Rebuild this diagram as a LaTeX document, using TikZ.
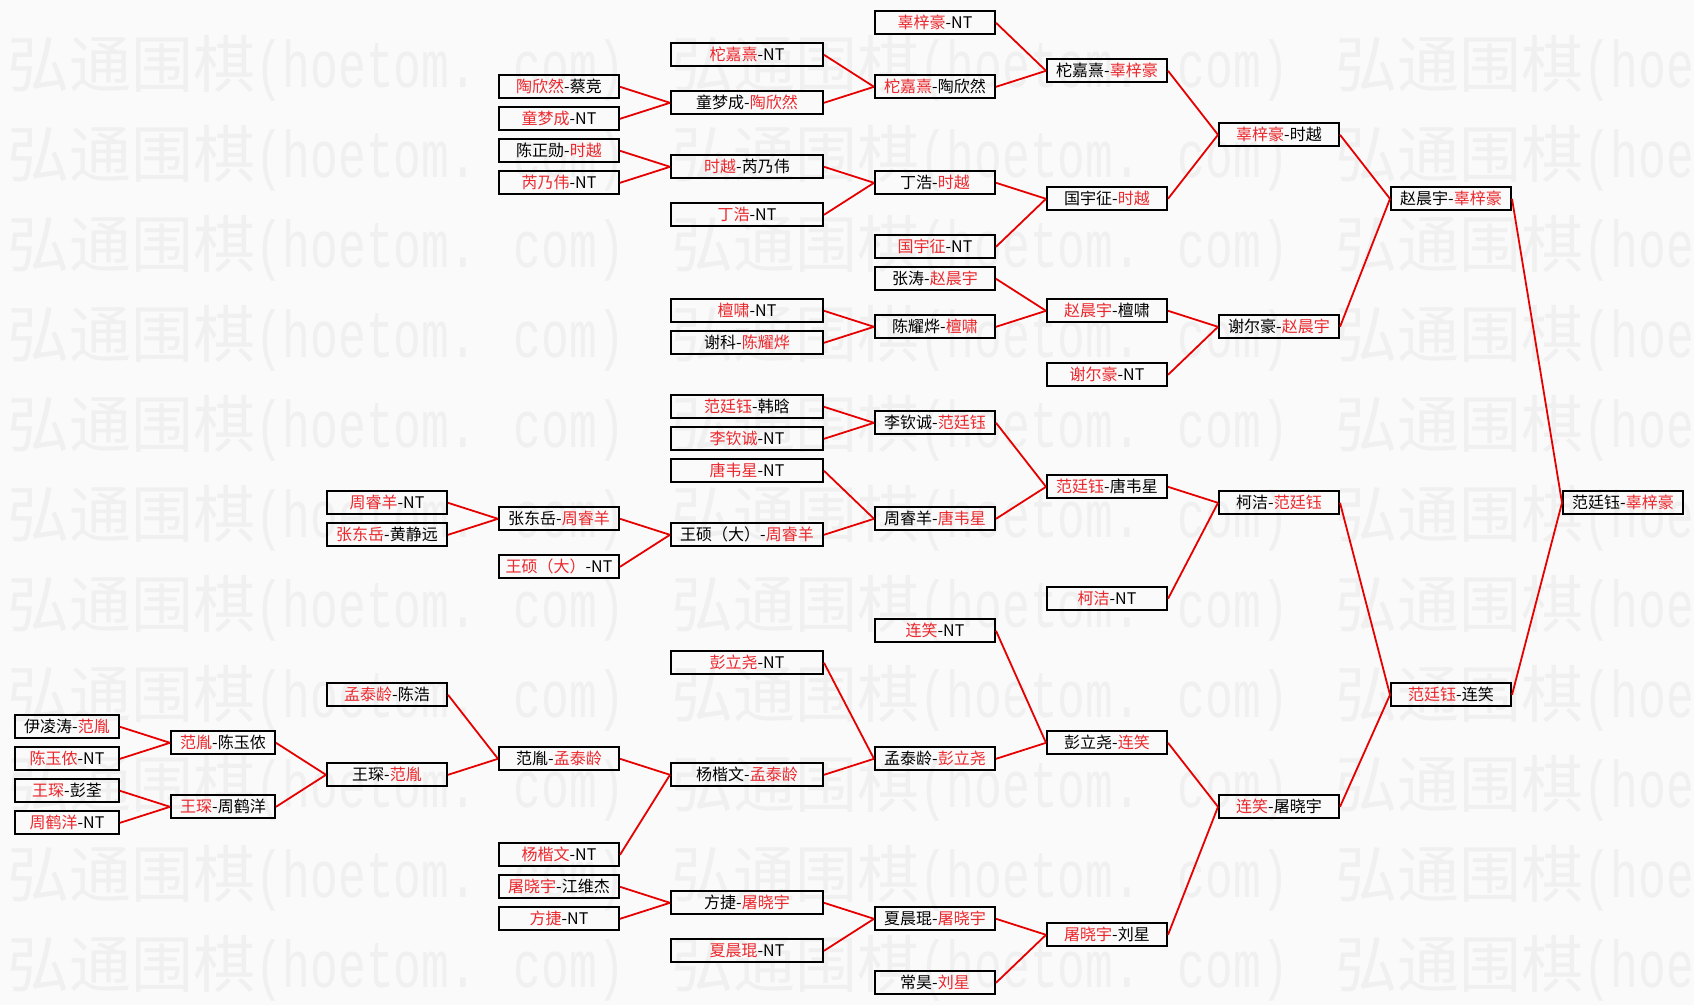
\documentclass[tikz,border=0pt]{standalone}
\usepackage{fontspec}
\setmainfont{Noto Sans CJK SC}
\newfontfamily\wmmono[FakeStretch=0.7]{Liberation Mono}
\usepackage{tikz}
\usetikzlibrary{positioning}
\definecolor{winred}{RGB}{235,40,45}
\definecolor{linered}{RGB}{230,0,0}
\definecolor{paper}{RGB}{250,250,250}
\definecolor{wmgray}{RGB}{240,240,240}
\newcommand{\wn}[1]{\textcolor{winred}{#1}}

\begin{document}
\begin{tikzpicture}[x=1pt,y=1pt,node distance=50pt,
  game/.style={draw, line width=2pt, inner sep=0pt, minimum width=120pt, minimum height=23pt, font=\fontsize{16pt}{16pt}\selectfont},
  gamewide/.style={game, minimum width=152pt},
  gameshort/.style={game, minimum width=104pt},
  branch/.style={linered, line width=1.8pt},
  watermark/.style={anchor=west, inner sep=0pt, text=wmgray}] %
    \path[use as bounding box, fill=paper] (0,0) rectangle (1694,-1005);
    % watermark
    \begin{scope}
      \clip (0,0) rectangle (1694,-1005);
      \foreach \j in {0,1,2} \foreach \k in {0,...,10}
        \node[watermark] (wm\j\k) at (7+664*\j,-68-90*\k) {{\fontsize{62pt}{62pt}\selectfont 弘通围棋}{\wmmono\fontsize{66pt}{66pt}\selectfont (hoetom. com)}};
    \end{scope}
    % top quarter
    \node[game] (tc) at (559,-86.8) {\wn{陶欣然}-蔡竞} ; %
    \node[game, below=7pt of tc] (tn) {\wn{童梦成}-NT} ;
    \node[game, below=7pt of tn] (ct) {陈正勋-\wn{时越}} ;
    \node[game, below=7pt of ct] (rn) {\wn{芮乃伟}-NT} ;
    \node[gamewide, right=of tc, yshift=-16pt] (tt) {童梦成-\wn{陶欣然}} ;
    \node[gamewide, right=of tc, yshift=32pt] (tjn) {\wn{柁嘉熹}-NT} ;
    \node[gamewide, right=of ct, yshift=-16pt] (sr) {\wn{时越}-芮乃伟} ;
    \node[gamewide, right=of rn, yshift=-32pt] (dn) {\wn{丁浩}-NT} ;
    \node[game, right=of tjn, yshift=32pt] (gn) {\wn{辜梓豪}-NT} ;
    \node[game, right=of tt, yshift=16pt] (tj) {\wn{柁嘉熹}-陶欣然} ;
    \node[game, right=of sr, yshift=-16pt] (ds) {丁浩-\wn{时越}} ;
    \node[game, right=of dn, yshift=-32pt] (gyn) {\wn{国宇征}-NT} ;
    \node[game, below=7pt of gyn] (zt) {张涛-\wn{赵晨宇}} ;
    \node[game, right=of tj, yshift=16pt] (tg) {柁嘉熹-\wn{辜梓豪}} ;
    \node[game, right=of ds, yshift=-16pt] (gs) {国宇征-\wn{时越}} ;
    \node[game, right=of tg, yshift=-64pt] (gsy) {\wn{辜梓豪}-时越} ;
    \node[game, below=23pt of zt] (cy) {陈耀烨-\wn{檀啸}} ;
    \node[gamewide, left=of cy, yshift=16pt] (txn) {\wn{檀啸}-NT} ;
    \node[gamewide, left=of cy, yshift=-16pt] (xk) {谢科-\wn{陈耀烨}} ;
    \node[game, right=of zt, yshift=-32pt] (zx) {\wn{赵晨宇}-檀啸} ;
    \node[game, right=of cy, yshift=-48pt] (xen) {\wn{谢尔豪}-NT} ;
    \node[game, right=of zx, yshift=-16pt] (xz) {谢尔豪-\wn{赵晨宇}} ;
    \node[game, right=of gsy, yshift=-64pt] (zg) {赵晨宇-\wn{辜梓豪}} ;
    % second quarter
    \node[gamewide, below=39pt of xk] (fh) {\wn{范廷钰}-韩晗} ;
    \node[gamewide, below=7pt of fh] (lqn) {\wn{李钦诚}-NT} ;
    \node[gamewide, below=7pt of lqn] (twn) {\wn{唐韦星}-NT} ;
    \node[gamewide, below=39pt of twn] (ws) {王硕（大）-\wn{周睿羊}} ;
    \node[game, right=of fh, yshift=-16pt] (lf) {李钦诚-\wn{范廷钰}} ;
    \node[game, left=of ws, yshift=16pt] (zz) {张东岳-\wn{周睿羊}} ;
    \node[game, left=of ws, yshift=-32pt] (wsn) {\wn{王硕（大）}-NT} ;
    \node[game, left=of zz, yshift=16pt] (zrn) {\wn{周睿羊}-NT} ;
    \node[game, left=of zz, yshift=-16pt] (zh) {\wn{张东岳}-黄静远} ;
    \node[game, right=of ws, yshift=16pt] (zw) {周睿羊-\wn{唐韦星}} ;
    \node[game, right=of lf, yshift=-64pt] (ft) {\wn{范廷钰}-唐韦星} ;
    \node[game, right=of zw, yshift=-80pt] (kjn) {\wn{柯洁}-NT} ;
    \node[game, right=of ft, yshift=-16pt] (kf) {柯洁-\wn{范廷钰}} ;
    % bottom half
    \node[game, below=87pt of zw] (lxn) {\wn{连笑}-NT} ;
    \node[gamewide, left=of lxn, yshift=-32pt] (pln) {\wn{彭立尧}-NT} ;
    \node[gamewide, below=87pt of pln] (ym) {杨楷文-\wn{孟泰龄}} ;
    \node[game, left=of ym, yshift=16pt] (fm) {范胤-\wn{孟泰龄}} ;
    \node[game, left=of ym, yshift=-80pt] (ykn) {\wn{杨楷文}-NT} ;
    \node[game, left=of fm, yshift=-16pt] (wf) {王琛-\wn{范胤}} ;
    \node[game, left=of fm, yshift=64pt] (mc) {\wn{孟泰龄}-陈浩} ;
    \node[gameshort, left=of wf, yshift=32pt] (fc) {\wn{范胤}-陈玉侬} ;
    \node[gameshort, left=of wf, yshift=-32pt] (wz) {\wn{王琛}-周鹤洋} ;
    \node[gameshort, left=of fc, yshift=16pt] (yf) {伊凌涛-\wn{范胤}} ;
    \node[gameshort, left=of fc, yshift=-16pt] (cyn) {\wn{陈玉侬}-NT} ;
    \node[gameshort, left=of wz, yshift=16pt] (wp) {\wn{王琛}-彭荃} ;
    \node[gameshort, left=of wz, yshift=-16pt] (zhn) {\wn{周鹤洋}-NT} ;
    \node[game, right=of ym, yshift=16pt] (mp) {孟泰龄-\wn{彭立尧}} ;
    \node[game, right=of mp, yshift=16pt] (pl) {彭立尧-\wn{连笑}} ;
    \node[game, below=7pt of ykn] (tjj) {\wn{屠晓宇}-江维杰} ;
    \node[game, below=7pt of tjj] (fjn) {\wn{方捷}-NT} ;
    \node[gamewide, right=of tjj, yshift=-16pt] (fjt) {方捷-\wn{屠晓宇}} ;
    \node[gamewide, right=of fjn, yshift=-32pt] (xcn) {\wn{夏晨琨}-NT} ;
    \node[game, right=of fjt, yshift=-16pt] (xt) {夏晨琨-\wn{屠晓宇}} ;
    \node[game, right=of xcn, yshift=-32pt] (ch) {常昊-\wn{刘星}} ;
    \node[game, right=of xt, yshift=-16pt] (tl) {\wn{屠晓宇}-刘星} ;
    \node[game, right=of pl, yshift=-64pt] (lt) {\wn{连笑}-屠晓宇} ;
    \node[game, right=of kf, yshift=-192pt] (fl) {\wn{范廷钰}-连笑} ;
    \node[game, right=of zg, yshift=-304pt] (fg) {范廷钰-\wn{辜梓豪}} ;
    % top quarter
    \draw[branch] (tc.east)--(tt.west) ; %
    \draw[branch] (tn.east)--(tt.west) ;
    \draw[branch] (ct.east)--(sr.west) ;
    \draw[branch] (rn.east)--(sr.west) ;
    \draw[branch] (tjn.east)--(tj.west) ;
    \draw[branch] (tt.east)--(tj.west) ;
    \draw[branch] (sr.east)--(ds.west) ;
    \draw[branch] (dn.east)--(ds.west) ;
    \draw[branch] (gn.east)--(tg.west) ;
    \draw[branch] (tj.east)--(tg.west) ;
    \draw[branch] (ds.east)--(gs.west) ;
    \draw[branch] (gyn.east)--(gs.west) ;
    \draw[branch] (tg.east)--(gsy.west) ;
    \draw[branch] (gs.east)--(gsy.west) ;
    \draw[branch] (txn.east)--(cy.west) ;
    \draw[branch] (xk.east)--(cy.west) ;
    \draw[branch] (zt.east)--(zx.west) ;
    \draw[branch] (cy.east)--(zx.west) ;
    \draw[branch] (zx.east)--(xz.west) ;
    \draw[branch] (xen.east)--(xz.west) ;
    \draw[branch] (gsy.east)--(zg.west) ;
    \draw[branch] (xz.east)--(zg.west) ;
    \draw[branch] (zg.east)--(fg.west) ;
    \draw[branch] (fl.east)--(fg.west) ;
    % second quarter
    \draw[branch] (fh.east)--(lf.west) ;
    \draw[branch] (lqn.east)--(lf.west) ;
    \draw[branch] (zrn.east)--(zz.west) ;
    \draw[branch] (zh.east)--(zz.west) ;
    \draw[branch] (zz.east)--(ws.west) ;
    \draw[branch] (wsn.east)--(ws.west) ;
    \draw[branch] (twn.east)--(zw.west) ;
    \draw[branch] (ws.east)--(zw.west) ;
    \draw[branch] (lf.east)--(ft.west) ;
    \draw[branch] (zw.east)--(ft.west) ;
    \draw[branch] (ft.east)--(kf.west) ;
    \draw[branch] (kjn.east)--(kf.west) ;
    \draw[branch] (kf.east)--(fl.west) ;
    \draw[branch] (lt.east)--(fl.west) ;
    % bottom half
    \draw[branch] (yf.east)--(fc.west) ;
    \draw[branch] (cyn.east)--(fc.west) ;
    \draw[branch] (wp.east)--(wz.west) ;
    \draw[branch] (zhn.east)--(wz.west) ;
    \draw[branch] (fc.east)--(wf.west) ;
    \draw[branch] (wz.east)--(wf.west) ;
    \draw[branch] (mc.east)--(fm.west) ;
    \draw[branch] (wf.east)--(fm.west) ;
    \draw[branch] (fm.east)--(ym.west) ;
    \draw[branch] (ykn.east)--(ym.west) ;
    \draw[branch] (pln.east)--(mp.west) ;
    \draw[branch] (ym.east)--(mp.west) ;
    \draw[branch] (lxn.east)--(pl.west) ;
    \draw[branch] (mp.east)--(pl.west) ;
    \draw[branch] (tjj.east)--(fjt.west) ;
    \draw[branch] (fjn.east)--(fjt.west) ;
    \draw[branch] (fjt.east)--(xt.west) ;
    \draw[branch] (xcn.east)--(xt.west) ;
    \draw[branch] (xt.east)--(tl.west) ;
    \draw[branch] (ch.east)--(tl.west) ;
    \draw[branch] (pl.east)--(lt.west) ;
    \draw[branch] (tl.east)--(lt.west) ;
  \end{tikzpicture}
\end{document}
